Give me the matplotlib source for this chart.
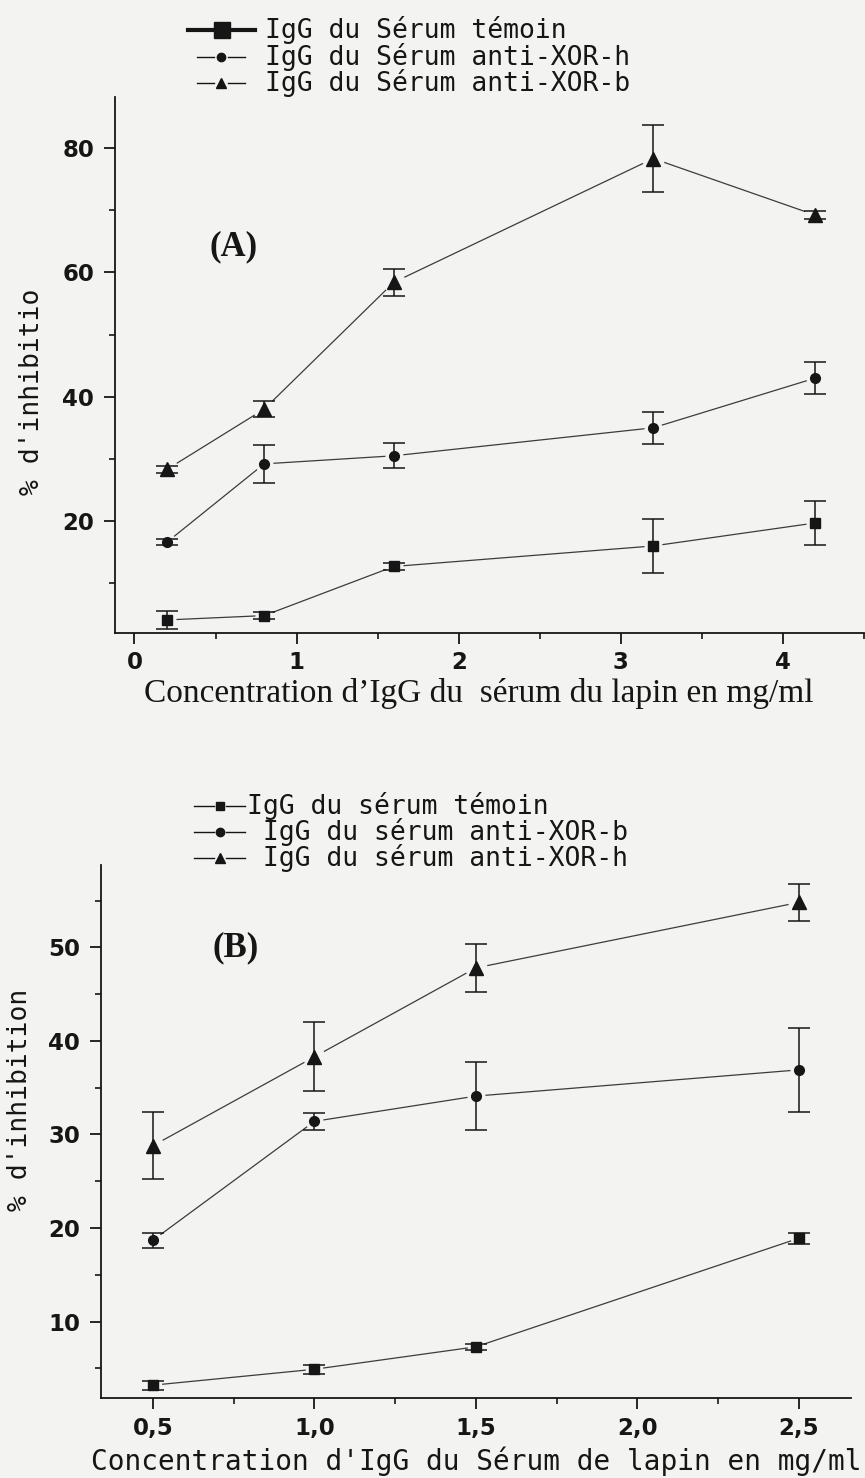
import matplotlib
matplotlib.use("Agg")
import matplotlib.pyplot as plt
from matplotlib.lines import Line2D
from matplotlib.ticker import MultipleLocator, FuncFormatter

# ---- data: panel A (IgG concentration, mg/ml) ----
conc_a = [0.2, 0.8, 1.6, 3.2, 4.2]
temoin_a = [4.1, 4.8, 12.7, 16.0, 19.7]
temoin_a_err = [1.4, 0.6, 0.6, 4.3, 3.6]
xor_h_a = [16.6, 29.2, 30.5, 35.0, 43.0]
xor_h_a_err = [0.5, 3.0, 2.0, 2.6, 2.6]
xor_b_a = [28.3, 38.0, 58.4, 78.3, 69.2]
xor_b_a_err = [0.5, 1.3, 2.2, 5.4, 0.6]
labels_a = ["IgG du Sérum témoin", "IgG du Sérum anti-XOR-h", "IgG du Sérum anti-XOR-b"]

# ---- data: panel B ----
conc_b = [0.5, 1.0, 1.5, 2.5]
temoin_b = [3.2, 4.9, 7.3, 18.9]
temoin_b_err = [0.5, 0.5, 0.3, 0.6]
xor_b_b = [18.7, 31.4, 34.1, 36.9]
xor_b_b_err = [0.8, 0.9, 3.6, 4.5]
xor_h_b = [28.8, 38.3, 47.8, 54.8]
xor_h_b_err = [3.6, 3.7, 2.6, 2.0]
labels_b = ["IgG du sérum témoin", " IgG du sérum anti-XOR-b", " IgG du sérum anti-XOR-h"]

W, H = 865, 1478
BG = "#f3f3f1"
INK = "#161616"
LINE = "#3c3c3c"
MONO = "DejaVu Sans Mono"

fig = plt.figure(figsize=(W / 100, H / 100), dpi=100, facecolor=BG)


def px_rect(left, top, right, bottom):
    return [left / W, 1 - bottom / H, (right - left) / W, (bottom - top) / H]


def fx(x):
    return x / W


def fy(y):
    return 1 - y / H


def style_axes(ax, xpad=7):
    ax.set_facecolor(BG)
    for s in ("top", "right"):
        ax.spines[s].set_visible(False)
    for s in ("left", "bottom"):
        ax.spines[s].set_linewidth(1.3)
        ax.spines[s].set_color(INK)
    ax.tick_params(which="major", direction="out", length=8, width=1.3,
                   colors=INK, pad=7, labelsize=16.5)
    ax.tick_params(axis="x", which="major", pad=xpad)
    ax.tick_params(which="minor", direction="out", length=4, width=1.2, colors=INK)
    for lab in ax.get_xticklabels() + ax.get_yticklabels():
        lab.set_fontweight("bold")
        lab.set_family("DejaVu Sans")


def series(ax, x, y, e, marker, ms):
    ax.plot(x, y, color=LINE, lw=0.9, zorder=1)
    # small clearing around each symbol so the joining line stops short of it
    ax.plot(x, y, ls="none", marker="o", ms=ms + 5, color=BG, mec=BG, zorder=1.5)
    ax.errorbar(x, y, yerr=e, fmt="none", ecolor=INK, elinewidth=1.1,
                capsize=8, capthick=1.1, zorder=2)
    ax.plot(x, y, ls="none", marker=marker, ms=ms, color=INK, zorder=3)


def legend_row(yy, x0, x1, mk, ms, lw, gap, label, xt, size):
    mid = (x0 + x1) / 2
    if gap > 0:
        for a, b in ((x0, mid - gap), (mid + gap, x1)):
            fig.add_artist(Line2D([fx(a), fx(b)], [fy(yy), fy(yy)], color=INK, lw=lw,
                                  transform=fig.transFigure))
    else:
        fig.add_artist(Line2D([fx(x0), fx(x1)], [fy(yy), fy(yy)], color=INK, lw=lw,
                              transform=fig.transFigure))
    fig.add_artist(Line2D([fx(mid)], [fy(yy)], marker=mk, ms=ms, color=INK,
                          ls="none", transform=fig.transFigure))
    fig.text(fx(xt), fy(yy), label, ha="left", va="center", family=MONO,
             fontsize=size, color=INK)


# ---------------- Panel A ----------------
ax_a = fig.add_axes(px_rect(115, 97, 864, 633))
series(ax_a, conc_a, temoin_a, temoin_a_err, "s", 7)
series(ax_a, conc_a, xor_h_a, xor_h_a_err, "o", 7)
series(ax_a, conc_a, xor_b_a, xor_b_a_err, "^", 10)
ax_a.set_xlim(-0.12, 4.5)
ax_a.set_ylim(2, 88.2)
ax_a.xaxis.set_major_locator(MultipleLocator(1))
ax_a.xaxis.set_minor_locator(MultipleLocator(0.5))
ax_a.yaxis.set_major_locator(MultipleLocator(20))
ax_a.yaxis.set_minor_locator(MultipleLocator(10))
style_axes(ax_a, xpad=5)
ax_a.text(0.158, 0.72, "(A)", transform=ax_a.transAxes, ha="center", va="center",
          family="Liberation Serif", fontweight="bold", fontsize=25, color=INK)

fig.text(fx(479), fy(694), "Concentration d\u2019IgG du  sérum du lapin en mg/ml",
         ha="center", va="center", family="Liberation Serif", fontsize=24, color=INK)
fig.text(fx(32), fy(392), "% d'inhibitio", rotation=90, ha="center", va="center",
         family=MONO, fontsize=19, color=INK)

legend_row(30, 188, 255, "s", 11, 3.0, 0, labels_a[0], 265, 19)
legend_row(57, 197, 245, "o", 6, 1.0, 7, labels_a[1], 265, 19)
legend_row(83, 197, 245, "^", 7, 1.0, 7, labels_a[2], 265, 19)

# ---------------- Panel B ----------------
ax_b = fig.add_axes(px_rect(101, 865, 851, 1398))
series(ax_b, conc_b, temoin_b, temoin_b_err, "s", 6.5)
series(ax_b, conc_b, xor_b_b, xor_b_b_err, "o", 7)
series(ax_b, conc_b, xor_h_b, xor_h_b_err, "^", 10)
ax_b.set_xlim(0.339, 2.662)
ax_b.set_ylim(1.83, 58.8)
ax_b.xaxis.set_major_locator(MultipleLocator(0.5))
ax_b.xaxis.set_minor_locator(MultipleLocator(0.25))
ax_b.xaxis.set_major_formatter(FuncFormatter(lambda v, p: f"{v:.1f}".replace(".", ",")))
ax_b.yaxis.set_major_locator(MultipleLocator(10))
ax_b.yaxis.set_minor_locator(MultipleLocator(5))
style_axes(ax_b, xpad=6)
ax_b.text(0.18, 0.845, "(B)", transform=ax_b.transAxes, ha="center", va="center",
          family="Liberation Serif", fontweight="bold", fontsize=25, color=INK)

fig.text(fx(476), fy(1461), "Concentration d'IgG du Sérum de lapin en mg/ml",
         ha="center", va="center", family=MONO, fontsize=20, color=INK)
fig.text(fx(20), fy(1100), "% d'inhibition", rotation=90, ha="center", va="center",
         family=MONO, fontsize=19, color=INK)

legend_row(806, 194, 245, "s", 6, 1.0, 6, labels_b[0], 247, 19)
legend_row(832, 194, 245, "o", 6, 1.0, 6, labels_b[1], 247, 19)
legend_row(858, 194, 245, "^", 7, 1.0, 6, labels_b[2], 247, 19)

fig.savefig("out.png", dpi=100, facecolor=BG)
